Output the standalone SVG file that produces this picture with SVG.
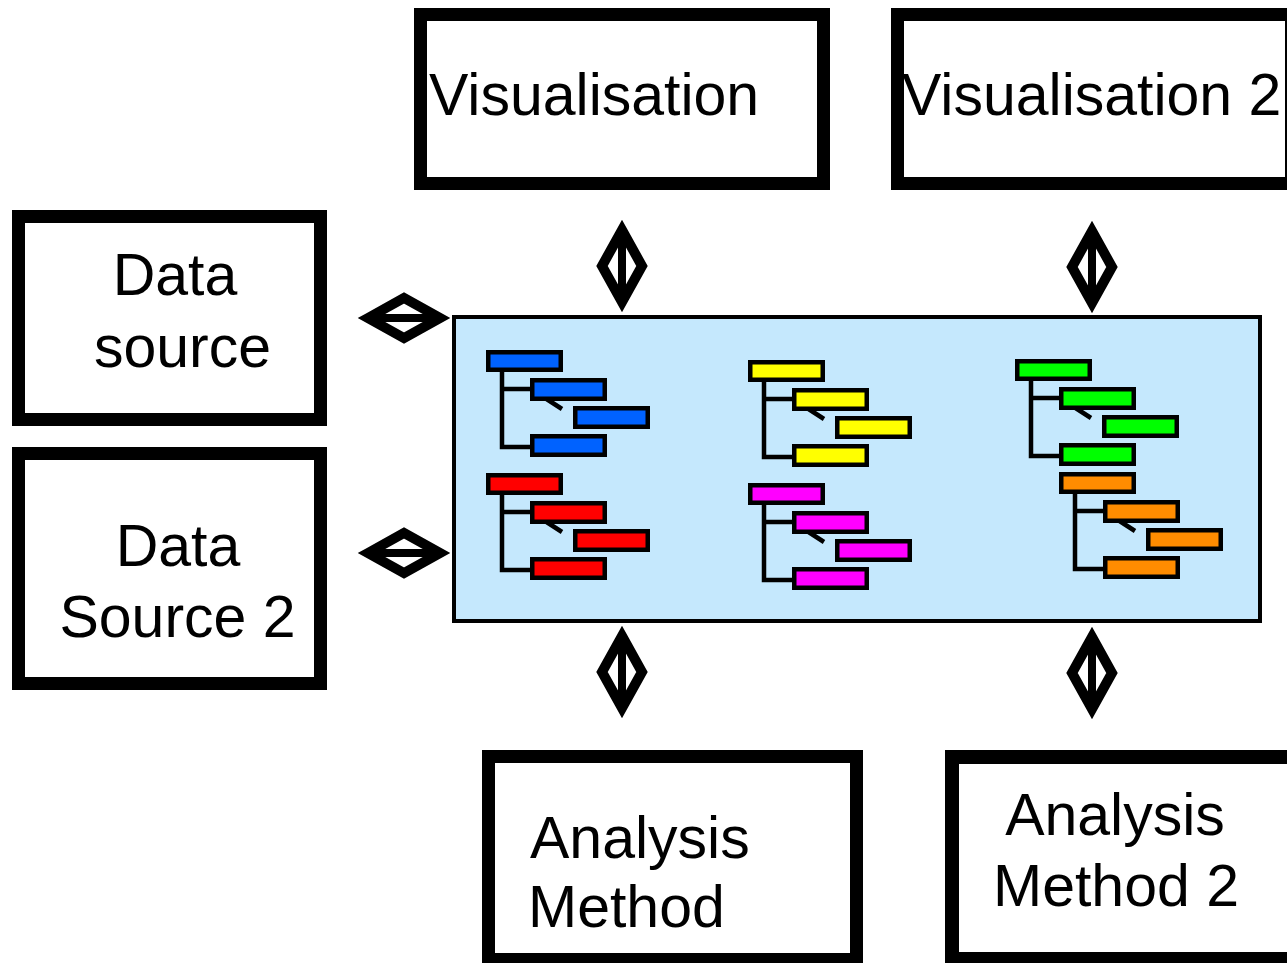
<svg xmlns="http://www.w3.org/2000/svg" xmlns:xlink="http://www.w3.org/1999/xlink" width="1287" height="963" viewBox="0 0 1287 963">
  <style>
    .box { fill: #ffffff; stroke: #000000; stroke-width: 13; }
    .label { font-family: "Liberation Sans", Arial, sans-serif; font-size: 59px; fill: #000000; }
    .mid { text-anchor: middle; }
    .hub { fill: #C5E8FD; stroke: #000000; stroke-width: 4; }
    .dia { fill: #ffffff; stroke: #000000; stroke-width: 10; stroke-linejoin: miter; stroke-miterlimit: 10; }
    .bar { stroke: #000000; stroke-width: 8; }
    .tb { stroke: #000000; stroke-width: 4.5; }
    .tl { stroke: #000000; stroke-width: 4.5; fill: none; }
  </style>
  <defs>
    <!-- small hierarchy glyph; fill comes from the referencing <use> -->
    <g id="tree">
      <path class="tl" d="M16 22 V97 H44 M16 39 H44 M59 48 L76 59"/>
      <rect class="tb" x="2.25" y="2.25" width="72.5" height="17.5"/>
      <rect class="tb" x="46.25" y="30.25" width="72.5" height="18.5"/>
      <rect class="tb" x="89.25" y="58.25" width="72.5" height="18.5"/>
      <rect class="tb" x="46.25" y="86.25" width="72.5" height="18.5"/>
    </g>
  </defs>

  <!-- central data model -->
  <g id="hub">
    <rect class="hub" x="454" y="317" width="806" height="304"/>
    <use xlink:href="#tree" href="#tree" x="486" y="350" fill="#0062FF"/>
    <use xlink:href="#tree" href="#tree" x="486" y="473" fill="#FF0000"/>
    <use xlink:href="#tree" href="#tree" x="748" y="360" fill="#FFFF00"/>
    <use xlink:href="#tree" href="#tree" x="748" y="483" fill="#FF00FF"/>
    <use xlink:href="#tree" href="#tree" x="1015" y="359" fill="#00FF00"/>
    <use xlink:href="#tree" href="#tree" x="1059" y="472" fill="#FF8C00"/>
  </g>

  <g id="visualisation">
    <rect class="box" x="420.5" y="14.5" width="403" height="169"/>
    <text class="label" x="429" y="115">Visualisation</text>
  </g>

  <g id="visualisation-2">
    <rect class="box" x="897.5" y="14.5" width="394" height="169"/>
    <text class="label" x="902" y="115">Visualisation 2</text>
  </g>

  <g id="data-source">
    <rect class="box" x="18.5" y="216.5" width="302" height="203"/>
    <text class="label mid" x="175" y="295">Data</text>
    <text class="label mid" x="182.5" y="367">source</text>
  </g>

  <g id="data-source-2">
    <rect class="box" x="18.5" y="453.5" width="302" height="230"/>
    <text class="label mid" x="178" y="566">Data</text>
    <text class="label mid" x="177.5" y="637">Source 2</text>
  </g>

  <g id="analysis-method">
    <rect class="box" x="488.5" y="756.5" width="368" height="203"/>
    <text class="label" x="530" y="858">Analysis</text>
    <text class="label" x="528" y="927">Method</text>
  </g>

  <g id="analysis-method-2">
    <rect class="box" x="952" y="757" width="350" height="202" style="stroke-width:14"/>
    <text class="label mid" x="1115" y="835">Analysis</text>
    <text class="label mid" x="1116" y="906">Method 2</text>
  </g>

  <!-- two-way diamond links between the hub and each node -->
  <g id="connectors">
    <g transform="translate(404,318)">
      <polygon class="dia" points="-36,0 0,-20 36,0 0,20"/>
      <line class="bar" x1="-38" y1="0" x2="38" y2="0"/>
    </g>
    <g transform="translate(404,553)">
      <polygon class="dia" points="-36,0 0,-20 36,0 0,20"/>
      <line class="bar" x1="-38" y1="0" x2="38" y2="0"/>
    </g>
    <g transform="translate(622,266)">
      <polygon class="dia" points="0,-36 20,0 0,36 -20,0"/>
      <line class="bar" x1="0" y1="-38" x2="0" y2="38"/>
    </g>
    <g transform="translate(1092,267)">
      <polygon class="dia" points="0,-36 20,0 0,36 -20,0"/>
      <line class="bar" x1="0" y1="-38" x2="0" y2="38"/>
    </g>
    <g transform="translate(622,672)">
      <polygon class="dia" points="0,-36 20,0 0,36 -20,0"/>
      <line class="bar" x1="0" y1="-38" x2="0" y2="38"/>
    </g>
    <g transform="translate(1092,673)">
      <polygon class="dia" points="0,-36 20,0 0,36 -20,0"/>
      <line class="bar" x1="0" y1="-38" x2="0" y2="38"/>
    </g>
  </g>
</svg>
